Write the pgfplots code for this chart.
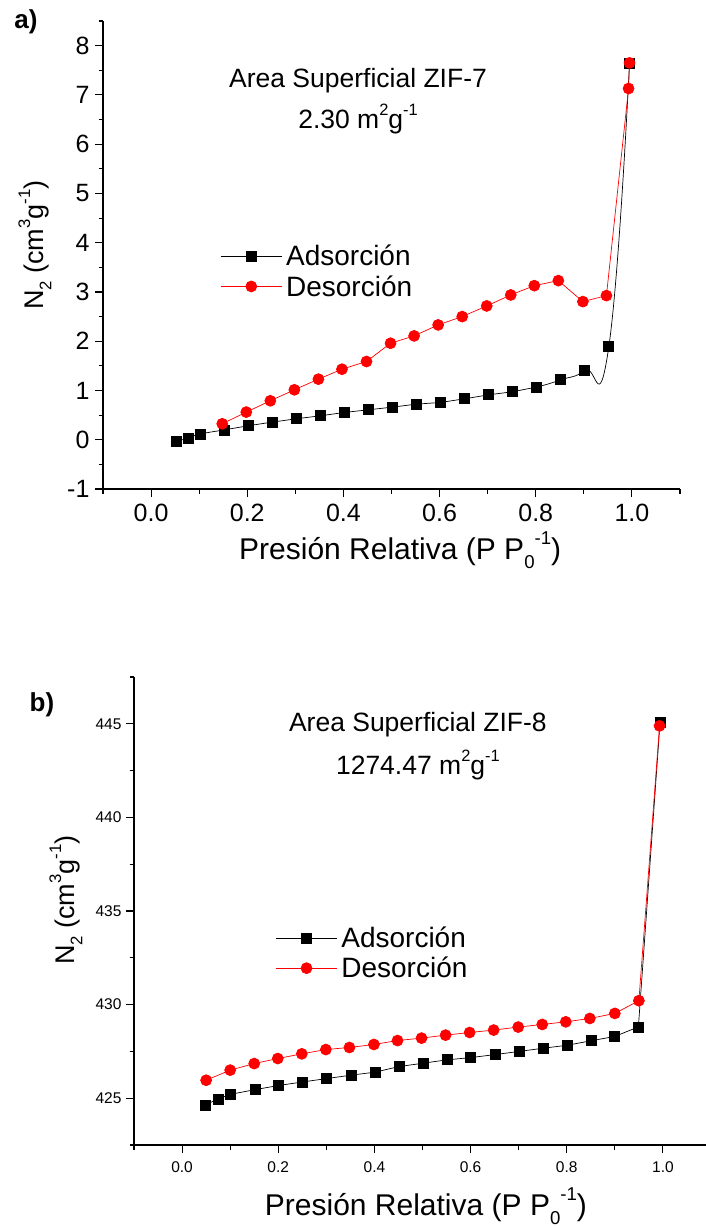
\documentclass[border=0pt]{standalone}
\usepackage{pgfplots}
\pgfplotsset{compat=1.18}
\usepackage{fontspec}
\setmainfont{Liberation Sans}
\newcommand\lo[1]{\raisebox{-0.3em}{\fontsize{0.62em}{0.7em}\selectfont #1}}
\newcommand\hi[1]{\raisebox{0.48em}{\fontsize{0.62em}{0.7em}\selectfont #1}}
\begin{document}
\begin{tikzpicture}
\path[use as bounding box] (0pt,0pt) rectangle (705pt,-1226pt);
\pgfplotsset{
  every axis/.append style={
    scale only axis, width=577pt, height=468pt,
    axis x line*=bottom, axis y line*=left,
    axis line style={line width=1.1pt},
    tick style={line width=1.1pt, black},
    tick align=outside,
    major tick length=8pt, minor tick length=4.5pt,
    xmin=-0.1, xmax=1.1,
    xtick={0,0.2,0.4,0.6,0.8,1.0},
    xticklabels={0.0,0.2,0.4,0.6,0.8,1.0},
    minor xtick={-0.1,0.1,0.3,0.5,0.7,0.9,1.1},
    clip=false,
    legend cell align=left,
    legend image code/.code={\draw[mark repeat=2,mark phase=2,#1] plot coordinates {(0pt,0pt) (30.5pt,0pt) (61pt,0pt)};},
  },
  sq/.style={black, line width=0.7pt, mark=square*, mark size=5pt, mark options={solid, fill=black}},
  ci/.style={red, line width=0.7pt, mark=*, mark size=5.5pt, mark options={solid, fill=red, draw=red}},
}
% ---------- a) ----------
\begin{axis}[at={(103pt,-489pt)}, anchor=south west,
  ymin=-1, ymax=8.5,
  ytick={-1,0,1,2,3,4,5,6,7,8},
  yticklabels={-1,0,1,2,3,4,5,6,7,8},
  minor ytick={-0.5,0.5,1.5,2.5,3.5,4.5,5.5,6.5,7.5,8.5},
  ticklabel style={font=\fontsize{25}{28}\selectfont},
  xticklabel style={yshift=-4pt},
  yticklabel style={xshift=-2pt},
  xlabel={Presión Relativa (P P\lo{0}\hi{-1})},
  ylabel={N\lo{2} (cm\hi{3}g\hi{-1})},
  xlabel style={font=\fontsize{30}{34}\selectfont, at={(rel axis cs:0.515,-0.131)}, anchor=center},
  ylabel style={font=\fontsize{27}{31}\selectfont, at={(rel axis cs:-0.118,0.521)}, anchor=center, rotate=0},
  legend style={draw=none, fill=none, at={(rel axis cs:0.198,0.465)}, anchor=west,
    font=\fontsize{28}{31}\selectfont, row sep=4pt, nodes={inner xsep=4pt}},
]
\addplot[sq, smooth, tension=0.85] coordinates {
(0.052,-0.034) (0.077,0.034) (0.102,0.115) (0.152,0.20) (0.202,0.284)
(0.252,0.358) (0.302,0.426) (0.352,0.486) (0.402,0.554) (0.452,0.608)
(0.502,0.662) (0.552,0.723) (0.602,0.757) (0.652,0.831) (0.702,0.912)
(0.751,0.973) (0.801,1.068) (0.852,1.216) (0.902,1.405) (0.952,1.892)
(0.995,7.65)};
\addlegendentry{Adsorción}
\addplot[ci] coordinates {
(0.148,0.324) (0.198,0.561) (0.248,0.791) (0.298,1.014) (0.348,1.230)
(0.397,1.432) (0.448,1.588) (0.498,1.959) (0.547,2.108) (0.597,2.331)
(0.647,2.50) (0.698,2.716) (0.748,2.939) (0.797,3.128) (0.847,3.23)
(0.898,2.804) (0.947,2.926) (0.993,7.13) (0.995,7.65)};
\addlegendentry{Desorción}
\node[font=\fontsize{26.5}{30}\selectfont] at (rel axis cs:0.442,0.872) {Area Superficial ZIF-7};
\node[font=\fontsize{26.5}{30}\selectfont] at (rel axis cs:0.442,0.79) {2.30 m\hi{2}g\hi{-1}};
\end{axis}
\node[font=\bfseries\fontsize{26}{30}\selectfont] at (26pt,-22pt) {a)};
% ---------- b) ----------
\begin{axis}[at={(134pt,-1145pt)}, anchor=south west,
  ymin=422.5, ymax=447.5,
  ytick={425,430,435,440,445},
  yticklabels={425,430,435,440,445},
  minor ytick={422.5,427.5,432.5,437.5,442.5,447.5},
  ticklabel style={font=\fontsize{15.5}{18}\selectfont},
  xticklabel style={yshift=-5pt},
  yticklabel style={xshift=-1pt},
  xlabel={Presión Relativa (P P\lo{0}\hi{-1})},
  ylabel={N\lo{2} (cm\hi{3}g\hi{-1})},
  xlabel style={font=\fontsize{30}{34}\selectfont, at={(rel axis cs:0.506,-0.131)}, anchor=center},
  ylabel style={font=\fontsize{27}{31}\selectfont, at={(rel axis cs:-0.118,0.523)}, anchor=center, rotate=0},
  legend style={draw=none, fill=none, at={(rel axis cs:0.24,0.41)}, anchor=west,
    font=\fontsize{28}{31}\selectfont, row sep=4pt, nodes={inner xsep=4pt}},
]
\addplot[sq] coordinates {
(0.048,424.64) (0.075,424.96) (0.101,425.21) (0.152,425.46) (0.201,425.68)
(0.251,425.87) (0.301,426.05) (0.351,426.23) (0.401,426.39) (0.451,426.69)
(0.501,426.87) (0.551,427.05) (0.600,427.17) (0.651,427.33) (0.701,427.50)
(0.751,427.67) (0.801,427.83) (0.851,428.07) (0.900,428.30) (0.949,428.81)
(0.994,445.07)};
\addlegendentry{Adsorción}
\addplot[ci] coordinates {
(0.050,425.96) (0.100,426.50) (0.150,426.85) (0.199,427.12) (0.249,427.37)
(0.299,427.60) (0.348,427.71) (0.399,427.87) (0.448,428.08) (0.498,428.21)
(0.548,428.37) (0.598,428.51) (0.648,428.64) (0.699,428.80) (0.749,428.94)
(0.798,429.08) (0.848,429.26) (0.900,429.53) (0.950,430.21) (0.993,444.89)};
\addlegendentry{Desorción}
\node[font=\fontsize{26.5}{30}\selectfont] at (rel axis cs:0.492,0.898) {Area Superficial ZIF-8};
\node[font=\fontsize{26.5}{30}\selectfont] at (rel axis cs:0.492,0.812) {1274.47 m\hi{2}g\hi{-1}};
\end{axis}
\node[font=\bfseries\fontsize{26}{30}\selectfont] at (42pt,-705pt) {b)};
\end{tikzpicture}
\end{document}
